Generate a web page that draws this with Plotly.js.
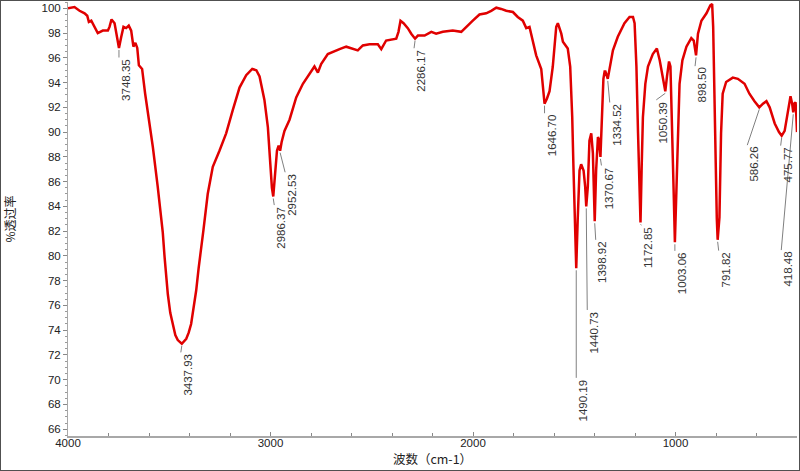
<!DOCTYPE html>
<html>
<head>
<meta charset="utf-8">
<script src="https://cdn.plot.ly/plotly-3.0.1.min.js"></script>
<style>
  html, body { margin: 0; padding: 0; background: #fff; }
  #chart { width: 800px; height: 471px; box-sizing: border-box; border: 1px solid #505050; }
</style>
</head>
<body>
<div id="chart"></div>
<script>
// IR spectrum (cm-1, %T)
const wavenumber = [
  4000, 3968, 3943, 3918, 3905, 3897, 3885, 3872, 3853, 3828, 3803, 3795, 3785, 3770, 3759,
  3748.35, 3737, 3726, 3713, 3700, 3688, 3677, 3667, 3658, 3650, 3634, 3619, 3601, 3581, 3557,
  3532, 3523, 3515, 3507, 3495, 3482, 3470, 3458, 3437.93, 3416, 3404, 3392, 3380, 3367, 3355,
  3342, 3331, 3310, 3285, 3252, 3219,
  3186, 3153, 3120, 3090, 3070, 3054, 3030, 3013, 3002, 2993, 2986.37, 2977, 2968, 2960, 2952.53,
  2945, 2931, 2906, 2898, 2873, 2840, 2807, 2783, 2766, 2750, 2717, 2692, 2659, 2626, 2594,
  2569, 2544, 2511, 2470, 2453, 2429, 2379, 2368, 2358, 2343, 2322, 2305, 2286.17, 2272, 2239,
  2206, 2182, 2149, 2100, 2058, 2034, 2001, 1968, 1935, 1910, 1885, 1861, 1836, 1803, 1779,
  1754, 1737, 1721, 1705, 1688, 1663, 1655, 1646.70, 1635, 1622, 1606, 1589, 1581, 1564, 1556,
  1532, 1520, 1510, 1504, 1496, 1490.19, 1483, 1474, 1466, 1454, 1446, 1440.73, 1433, 1425, 1416,
  1408, 1398.92, 1392, 1383, 1378, 1370.67, 1366, 1362, 1356, 1350, 1346, 1334.52, 1323, 1309, 1285,
  1252, 1227, 1210, 1202, 1193, 1185, 1178, 1172.85, 1167, 1161, 1149, 1136, 1112, 1092, 1078,
  1062, 1050.39, 1042, 1032, 1025, 1015, 1008, 1003.06, 996, 988, 980, 966, 946, 922, 910,
  898.50, 889, 872, 847, 828, 819, 814, 809, 801, 796, 791.82, 783, 775, 767, 750,
  717, 692, 659, 635, 610, 586.26, 568, 551, 535, 510, 489, 475.77, 461, 444, 432,
  424, 418.48, 414, 407, 403, 400
];
const transmittance = [
  100.0, 100.1, 99.8, 99.6, 99.4, 98.9, 99.0, 98.6, 98.0, 98.2, 98.2, 98.5, 99.1, 98.8, 97.9,
  96.8, 97.7, 98.5, 98.4, 98.6, 98.2, 96.9, 97.2, 96.8, 95.4, 95.1, 93.1, 91.2, 88.8, 85.6,
  81.9, 79.9, 78.3, 76.9, 75.4, 74.3, 73.6, 73.2, 72.9, 73.3, 73.8, 74.5, 75.7, 77.2, 79.0,
  80.9, 82.1, 85.0, 87.2, 88.5, 89.9,
  91.8, 93.6, 94.6, 95.1, 95.0, 94.5, 92.6, 90.4, 87.7, 85.5, 84.8, 86.4, 88.5, 88.9, 88.5,
  89.2, 90.1, 91.0, 91.4, 92.8, 93.9, 94.7, 95.3, 94.8, 95.5, 96.3, 96.5, 96.7, 96.9, 96.7,
  96.6, 97.0, 97.1, 97.1, 96.7, 97.4, 97.55, 98.1, 99.0, 98.8, 98.4, 97.95, 97.55, 97.8, 97.8,
  98.1, 97.95, 98.1, 98.2, 98.1, 98.5, 99.0, 99.5, 99.6, 99.8, 100.05, 99.95, 99.8, 99.7, 99.3,
  99.0, 98.4, 98.5, 97.4, 96.2, 95.1, 93.6, 92.3, 92.7, 93.3, 95.3, 98.5, 98.8, 97.95, 97.3,
  96.75, 95.3, 91.2, 87.2, 82.0, 79.0, 82.9, 86.9, 87.4, 86.9, 85.6, 84.0, 85.6, 89.3, 89.9,
  88.3, 82.8, 86.9, 89.6, 89.4, 88.0, 89.8, 91.5, 94.3, 94.9, 94.9, 94.3, 95.3, 96.6, 97.7,
  98.8, 99.3, 99.3, 98.8, 95.3, 89.9, 84.8, 82.7, 87.2, 91.2, 93.9, 95.3, 96.3, 96.75, 95.8,
  94.2, 93.3, 94.5, 95.7, 95.3, 89.9, 84.5, 81.1, 84.5, 89.9, 93.9, 95.8, 96.9, 97.6, 97.4,
  96.2, 97.95, 99.0, 99.6, 100.25, 100.35, 98.5, 92.6, 87.2, 83.0, 81.3, 83.1, 89.9, 93.1, 94.05,
  94.4, 94.3, 93.9, 93.1, 92.5, 92.0, 92.3, 92.5, 92.0, 90.7, 90.0, 89.7, 90.1, 91.8, 92.9,
  92.3, 91.6, 92.3, 92.4, 91.2, 90.0
];

const peakLabels = [
  "3748.35", "3437.93", "2986.37", "2952.53", "2286.17", "1646.70", "1490.19", "1440.73",
  "1398.92", "1370.67", "1334.52", "1172.85", "1050.39", "1003.06", "898.50", "791.82",
  "586.26", "475.77", "418.48"
];
// where each label's centre sits relative to its peak, px (right, down)
const labelShift = [
  [7, 32], [6, 31], [8, 31], [12, 44], [6, 32], [7, 32], [7, 132], [8, 126],
  [8, 41], [8, 31], [9, 46], [8, 25], [-2, 31], [7, 31], [6, 30], [8, 30],
  [-5, 57], [6, 29], [-5, 157]
];

const spectrum = {
  x: wavenumber,
  y: transmittance,
  mode: "lines",
  line: { color: "#e00000", width: 2.5 },
  hoverinfo: "x+y",
  showlegend: false,
};

const annotations = [];
const shapes = [];
peakLabels.forEach((lab, i) => {
  const wn = parseFloat(lab);
  const t = transmittance[wavenumber.indexOf(wn)];
  const [dx, dy] = labelShift[i];
  const half = lab.length * 3.2;
  annotations.push({
    x: wn, y: t, xref: "x", yref: "y",
    text: lab, showarrow: false, textangle: -90,
    xanchor: "center", yanchor: "middle",
    xshift: dx, yshift: -dy,
    font: { family: "Liberation Sans, Arial, sans-serif", size: 11.5, color: "#333" },
  });
  shapes.push({
    type: "line", xref: "x", yref: "y",
    xsizemode: "pixel", ysizemode: "pixel",
    xanchor: wn, yanchor: t,
    x0: 0, x1: dx - 7, y0: -2, y1: -(dy - half),
    line: { color: "#808080", width: 1 },
  });
});

const tickFont = { family: "Liberation Sans, Arial, sans-serif", size: 11.5, color: "#222" };

const layout = {
  width: 798,
  height: 469,
  margin: { l: 67, r: 2, t: 1, b: 34 },
  paper_bgcolor: "#fff",
  plot_bgcolor: "#fff",
  xaxis: {
    range: [4000, 400],
    tick0: 0, dtick: 1000,
    ticks: "inside", ticklen: 4, tickcolor: "#888",
    minor: { dtick: 200, ticks: "inside", ticklen: 3, tickcolor: "#888" },
    showline: true, linecolor: "#a8a8a8", linewidth: 2,
    showgrid: false, zeroline: false,
    tickfont: tickFont,
    ticklabelstandoff: -5,
    title: { text: "波数（cm-1）", standoff: 3,
      font: { family: "Noto Sans CJK SC", size: 12.5, color: "#222" } },
  },
  yaxis: {
    range: [65.45, 100.51],
    tick0: 0, dtick: 2,
    ticks: "outside", ticklen: 4, tickcolor: "#888",
    minor: { dtick: 0.5, ticks: "outside", ticklen: 2, tickcolor: "#999" },
    showline: true, linecolor: "#a8a8a8", linewidth: 1,
    showgrid: false, zeroline: false,
    tickfont: tickFont,
    title: { text: "%透过率", standoff: 30,
      font: { family: "Noto Sans CJK SC", size: 12, color: "#222" } },
  },
  annotations,
  shapes,
};

Plotly.newPlot("chart", [spectrum], layout, { displayModeBar: false, staticPlot: true });
</script>
</body>
</html>
